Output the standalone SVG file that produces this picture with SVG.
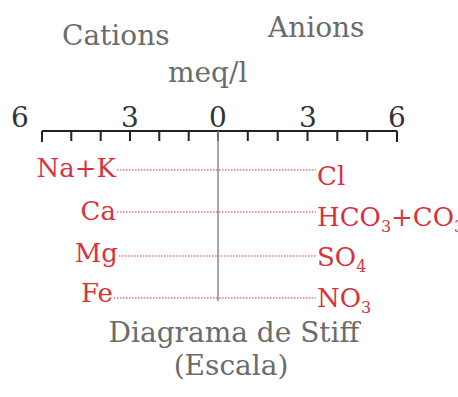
<svg xmlns="http://www.w3.org/2000/svg" width="458" height="397" viewBox="0 0 458 397">
<style>
.t{font-family:"DejaVu Serif","Liberation Serif",serif;}
.g{fill:#6b6b6b;font-size:28px;}
.n{fill:#333;font-size:28px;text-anchor:middle;}
.r{fill:#d8323f;font-size:26px;}
.l{text-anchor:end;}
.sub{font-size:16px;}
.dot{stroke:#d8323f;stroke-width:1.2;stroke-dasharray:1.5 1.5;fill:none;}
.ax{stroke:#222;stroke-width:2;fill:none;}
</style>
<rect width="458" height="397" fill="#fff"/>
<g id="titles" class="t">
<text class="g" x="62" y="45">Cations</text>
<text class="g" x="268" y="37">Anions</text>
<text class="g" x="168" y="82">meq/l</text>
</g>
<g id="scale" class="t">
<path class="ax" d="M42 131H397M42 131v11M71.3 131v10M100.7 131v10M130 131v10M159.3 131v10M188.7 131v10M218 131v10M247.8 131v10M277.7 131v10M307.5 131v10M337.3 131v10M367.2 131v10M397 131v11"/>
<text class="n" x="20" y="127">6</text>
<text class="n" x="130" y="127">3</text>
<text class="n" x="218" y="127">0</text>
<text class="n" x="308" y="127">3</text>
<text class="n" x="397" y="127">6</text>
<line x1="218" y1="131" x2="218" y2="301" stroke="#8a8a8a" stroke-width="1.5"/>
</g>
<g id="connectors">
<line class="dot" x1="117" y1="170" x2="316" y2="170"/>
<line class="dot" x1="117" y1="212" x2="316" y2="212"/>
<line class="dot" x1="119" y1="256" x2="316" y2="256"/>
<line class="dot" x1="114" y1="298" x2="316" y2="298"/>
</g>
<g id="cations" class="t">
<text class="r l" x="116" y="177">Na+K</text>
<text class="r l" x="116" y="220">Ca</text>
<text class="r l" x="118" y="262">Mg</text>
<text class="r l" x="113" y="302">Fe</text>
</g>
<g id="anions" class="t">
<text class="r" x="317" y="185">Cl</text>
<text class="r" x="317" y="226">HCO<tspan class="sub" dy="6">3</tspan><tspan dy="-6">+CO</tspan><tspan class="sub" dy="6">3</tspan></text>
<text class="r" x="317" y="266">SO<tspan class="sub" dy="6">4</tspan></text>
<text class="r" x="317" y="307">NO<tspan class="sub" dy="6">3</tspan></text>
</g>
<g id="caption" class="t">
<text class="g" x="234" y="342" text-anchor="middle">Diagrama de Stiff</text>
<text class="g" x="231" y="375" text-anchor="middle">(Escala)</text>
</g>
</svg>
